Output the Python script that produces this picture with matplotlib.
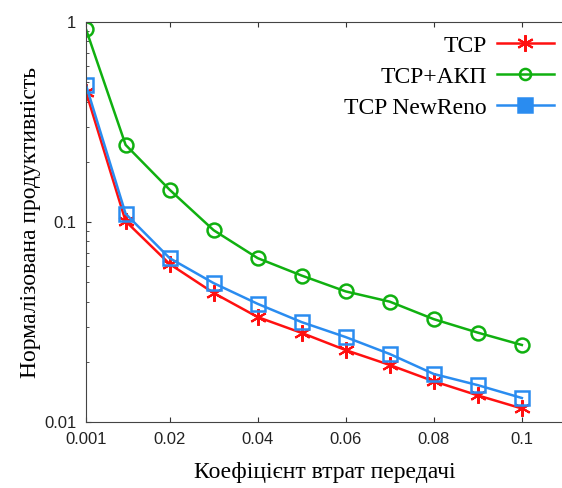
import matplotlib.pyplot as plt
import numpy as np

# Дані
x = [0.001, 0.01, 0.02, 0.03, 0.04, 0.05, 0.06, 0.07, 0.08, 0.09, 0.1]
tcp = [0.447, 0.101, 0.0617, 0.0442, 0.0335, 0.0279, 0.0229, 0.0193, 0.016, 0.0136, 0.0117]
tcp_akp = [0.92, 0.243, 0.145, 0.091, 0.066, 0.054, 0.045, 0.040, 0.0327, 0.028, 0.0243]
tcp_newreno = [0.484, 0.110, 0.066, 0.0495, 0.039, 0.0316, 0.0266, 0.0219, 0.0174, 0.0153, 0.0132]
xticks = [0.001, 0.02, 0.04, 0.06, 0.08, 0.1]
xtick_labels = ['0.001', '0.02', '0.04', '0.06', '0.08', '0.1']

serif = 'Liberation Serif'
sans = 'Liberation Sans'

fig = plt.figure(figsize=(5.62, 4.88), dpi=100)
ax = fig.add_axes([0.153, 0.135, 0.85, 0.82])

ax.plot(x, tcp, color='#ff1010', lw=1.8, marker=(6, 2, 0), ms=12, mew=1.5, label='TCP')
ax.plot(x, tcp_akp, color='#10b010', lw=1.8, marker='o', ms=10, mfc='none', mew=1.8, label='TCP+АКП')
ax.plot(x, tcp_newreno, color='#2a8cf0', lw=1.8, marker='s', ms=10, mfc='none', mew=1.8, label='TCP NewReno')

ax.set_yscale('log')
ax.set_ylim(0.01, 1)
ax.set_xlim(0.001, 0.1095)
ax.set_xticks(xticks)
ax.set_xticklabels(xtick_labels, fontfamily=sans, fontsize=12)
ax.set_yticks([0.01, 0.1, 1])
ax.set_yticklabels(['0.01', '0.1', '1'], fontfamily=sans, fontsize=12)
ax.tick_params(which='both', direction='in', top=True, right=False, colors='#333333')
ax.tick_params(axis='x', which='minor', top=False, bottom=False)
ax.tick_params(labelcolor='#222222', pad=7)
ax.spines['right'].set_visible(False)
for s in ['left', 'bottom', 'top']:
    ax.spines[s].set_color('#444444')

ax.set_xlabel('Коефіцієнт втрат передачі', fontfamily=serif, fontsize=17, labelpad=11)
ax.set_ylabel('Нормалізована продуктивність', fontfamily=serif, fontsize=17, labelpad=2)

leg = ax.legend(loc='upper right', bbox_to_anchor=(1.025, 1.02), frameon=False, markerfirst=False,
                prop={'family': serif, 'size': 17}, handlelength=2.45, labelspacing=0.4, handletextpad=0.4)
leg.legend_handles[0].set_markersize(12)
leg.legend_handles[1].set_markersize(8)
leg.legend_handles[2].set_markerfacecolor('#2a8cf0')

plt.savefig('out.png', dpi=100)
